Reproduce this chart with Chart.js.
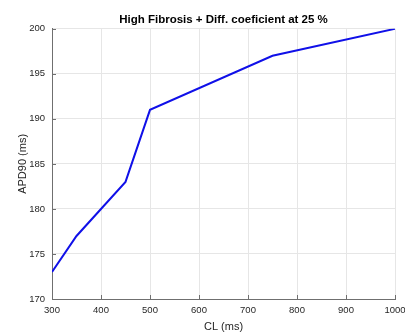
<!DOCTYPE html>
<html>
<head>
<meta charset="utf-8">
<script src="https://cdn.jsdelivr.net/npm/chart.js@4"></script>
<style>
  html, body { margin: 0; padding: 0; background: #ffffff; }
  #wrap { width: 405px; height: 334px; }
</style>
</head>
<body>
<div id="wrap"><canvas id="apdChart" width="405" height="334"></canvas></div>
<script>
// Cycle length (ms) and resulting APD90 (ms)
const cycleLengths = [300, 350, 450, 500, 750, 1000];
const apd90 = [173, 177, 183, 191, 197, 200];

// Axis tick values
const xTickValues = [300, 400, 500, 600, 700, 800, 900, 1000];
const yTickValues = [170, 175, 180, 185, 190, 195, 200];

const FONT = "'Liberation Sans', Arial, Helvetica, sans-serif";
const TEXT = '#262626';
const AXIS = '#6f6f6f';
const GRID = '#e6e6e6';

// Short inward tick marks along the bottom and left axes
const innerTicks = {
  id: 'innerTicks',
  afterDatasetsDraw(chart) {
    const { ctx, chartArea, scales } = chart;
    const len = 4;
    ctx.save();
    ctx.strokeStyle = AXIS;
    ctx.lineWidth = 1;
    ctx.beginPath();
    xTickValues.forEach(v => {
      const x = Math.round(scales.x.getPixelForValue(v)) + 0.5;
      ctx.moveTo(x, chartArea.bottom);
      ctx.lineTo(x, chartArea.bottom - len);
    });
    yTickValues.forEach(v => {
      const y = Math.round(scales.y.getPixelForValue(v)) + 0.5;
      ctx.moveTo(chartArea.left, y);
      ctx.lineTo(chartArea.left + len, y);
    });
    ctx.stroke();
    ctx.restore();
  }
};

new Chart(document.getElementById('apdChart'), {
  type: 'line',
  data: {
    datasets: [{
      data: cycleLengths.map((cl, i) => ({ x: cl, y: apd90[i] })),
      borderColor: '#1010e8',
      borderWidth: 2,
      pointRadius: 0,
      tension: 0,
      fill: false
    }]
  },
  options: {
    responsive: false,
    animation: false,
    devicePixelRatio: 1,
    layout: { padding: { left: 0, right: 10, top: 0, bottom: 0 } },
    plugins: {
      legend: { display: false },
      tooltip: { enabled: false },
      title: {
        display: true,
        text: 'High Fibrosis + Diff. coeficient at 25 %',
        fullSize: false,
        color: '#000000',
        font: { family: FONT, size: 11.5, weight: 'bold' },
        padding: { top: 12.5, bottom: 2.5 }
      }
    },
    scales: {
      x: {
        type: 'linear',
        min: 300,
        max: 1000,
        afterBuildTicks(scale) { scale.ticks = xTickValues.map(v => ({ value: v })); },
        afterFit(scale) {
          scale.height = 35;
          // let the last label run past the plot edge instead of shrinking the plot
          scale.paddingLeft = 0;
          scale.paddingRight = 0;
        },
        ticks: {
          color: TEXT,
          font: { family: FONT, size: 9.5 },
          padding: 6,
          maxRotation: 0,
          autoSkip: false,
          callback: v => String(v)
        },
        grid: { color: GRID, lineWidth: 1, drawTicks: false },
        border: { display: true, color: AXIS, width: 1 },
        title: {
          display: true,
          text: 'CL (ms)',
          color: TEXT,
          font: { family: FONT, size: 11 },
          padding: { top: 0, bottom: 0.5 }
        }
      },
      y: {
        type: 'linear',
        min: 170,
        max: 200,
        afterBuildTicks(scale) { scale.ticks = yTickValues.map(v => ({ value: v })); },
        afterFit(scale) {
          scale.width = 52;
          scale.paddingTop = 0;
          scale.paddingBottom = 0;
        },
        ticks: {
          color: TEXT,
          font: { family: FONT, size: 9.5 },
          padding: 7,
          autoSkip: false,
          callback: v => String(v)
        },
        grid: { color: GRID, lineWidth: 1, drawTicks: false },
        border: { display: true, color: AXIS, width: 1 },
        title: {
          display: true,
          text: 'APD90 (ms)',
          color: TEXT,
          font: { family: FONT, size: 11 },
          padding: { top: 16, bottom: 0 }
        }
      }
    }
  },
  plugins: [innerTicks]
});
</script>
</body>
</html>
